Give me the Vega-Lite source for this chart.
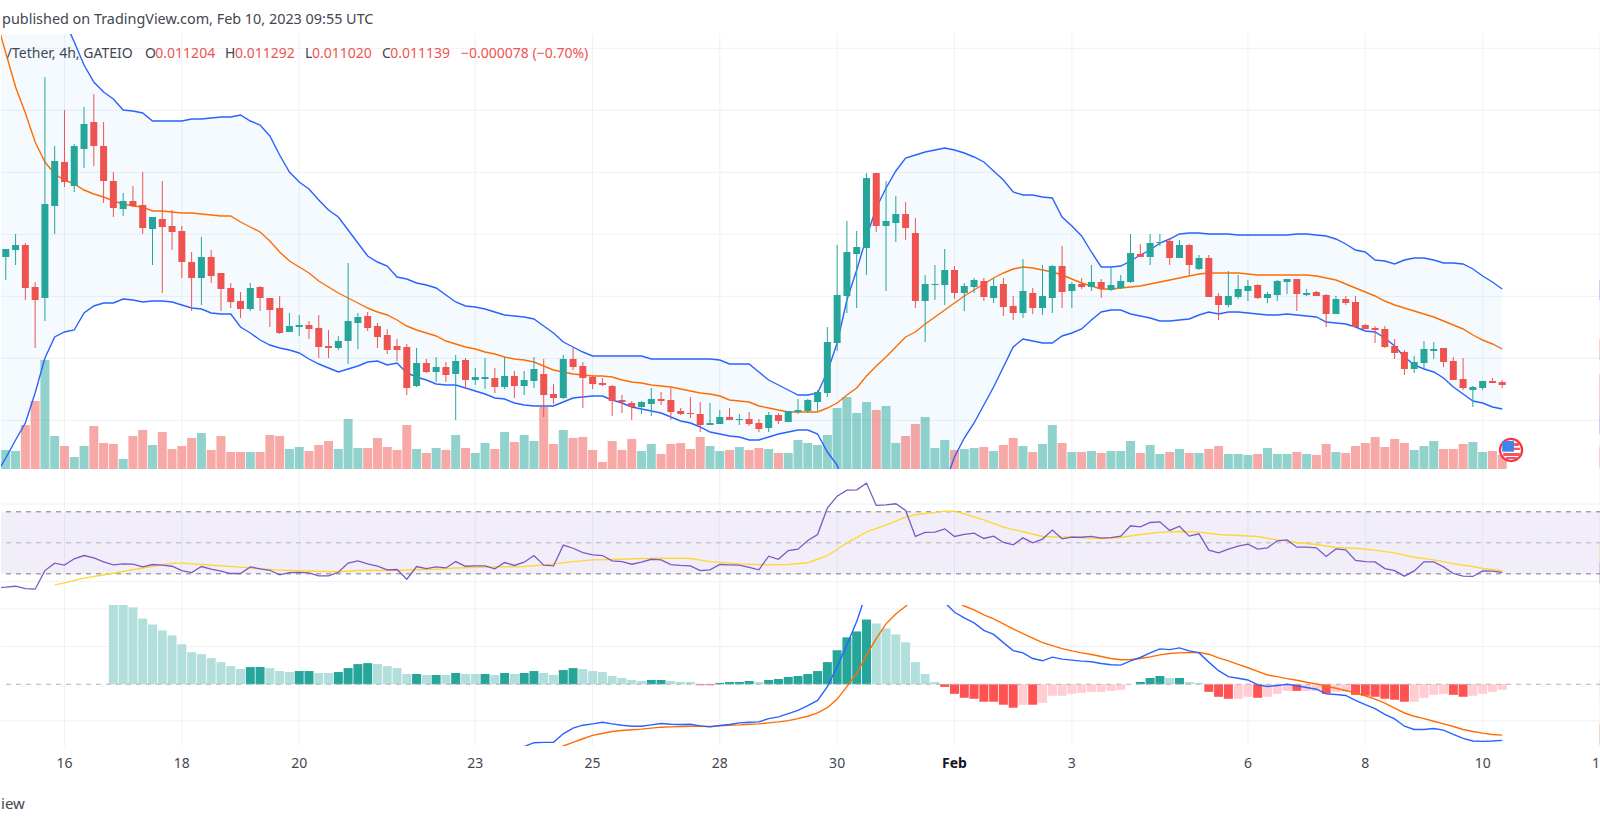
{
"$schema":"https://vega.github.io/schema/vega-lite/v6.json",
"padding":0,
"background":"white",
"spacing":0,
"bounds":"flush",
"config":{"view":{"stroke":null},"font":"Noto Sans"},
"datasets":{
"candles":[
{"i":0,"o":212,"h":220,"l":189,"c":220,"v":19},{"i":1,"o":219,"h":235,"l":204,"c":224,"v":18},{"i":2,"o":224,"h":226,"l":169,"c":181,"v":44},{"i":3,"o":182,"h":187,"l":121,"c":169,"v":68},{"i":4,"o":171,"h":392,"l":148,"c":265,"v":109},{"i":5,"o":263,"h":323,"l":235,"c":308,"v":33},{"i":6,"o":307,"h":359,"l":282,"c":287,"v":23},{"i":7,"o":283,"h":325,"l":277,"c":323,"v":12},{"i":8,"o":320,"h":362,"l":301,"c":345,"v":23},{"i":9,"o":347,"h":375,"l":303,"c":323,"v":43},
{"i":10,"o":323,"h":347,"l":266,"c":288,"v":26},{"i":11,"o":288,"h":297,"l":252,"c":261,"v":25},{"i":12,"o":260,"h":276,"l":253,"c":268,"v":10},{"i":13,"o":268,"h":283,"l":262,"c":263,"v":33},{"i":14,"o":264,"h":297,"l":235,"c":241,"v":39},{"i":15,"o":240,"h":252,"l":204,"c":252,"v":24},{"i":16,"o":250,"h":288,"l":176,"c":242,"v":37},{"i":17,"o":243,"h":259,"l":219,"c":237,"v":20},{"i":18,"o":238,"h":243,"l":191,"c":207,"v":23},{"i":19,"o":207,"h":217,"l":158,"c":191,"v":31},
{"i":20,"o":191,"h":232,"l":164,"c":212,"v":36},{"i":21,"o":212,"h":219,"l":186,"c":193,"v":19},{"i":22,"o":196,"h":196,"l":158,"c":180,"v":33},{"i":23,"o":181,"h":186,"l":161,"c":167,"v":17},{"i":24,"o":168,"h":177,"l":151,"c":160,"v":17},{"i":25,"o":160,"h":186,"l":158,"c":181,"v":17},{"i":26,"o":182,"h":183,"l":158,"c":171,"v":17},{"i":27,"o":171,"h":171,"l":142,"c":159,"v":34},{"i":28,"o":161,"h":173,"l":135,"c":136,"v":33},{"i":29,"o":137,"h":156,"l":137,"c":143,"v":20},
{"i":30,"o":142,"h":154,"l":133,"c":144,"v":22},{"i":31,"o":144,"h":148,"l":130,"c":140,"v":18},{"i":32,"o":141,"h":154,"l":111,"c":122,"v":24},{"i":33,"o":123,"h":139,"l":111,"c":121,"v":28},{"i":34,"o":121,"h":133,"l":119,"c":128,"v":20},{"i":35,"o":128,"h":206,"l":105,"c":148,"v":50},{"i":36,"o":146,"h":156,"l":120,"c":152,"v":21},{"i":37,"o":153,"h":157,"l":138,"c":141,"v":21},{"i":38,"o":143,"h":146,"l":121,"c":132,"v":31},{"i":39,"o":134,"h":140,"l":115,"c":119,"v":22},
{"i":40,"o":123,"h":130,"l":108,"c":119,"v":19},{"i":41,"o":122,"h":125,"l":74,"c":81,"v":44},{"i":42,"o":83,"h":121,"l":82,"c":106,"v":20},{"i":43,"o":106,"h":110,"l":96,"c":97,"v":16},{"i":44,"o":97,"h":112,"l":87,"c":102,"v":21},{"i":45,"o":102,"h":107,"l":87,"c":94,"v":19},{"i":46,"o":95,"h":114,"l":49,"c":108,"v":34},{"i":47,"o":109,"h":111,"l":80,"c":89,"v":21},{"i":48,"o":89,"h":101,"l":84,"c":92,"v":16},{"i":49,"o":90,"h":111,"l":80,"c":92,"v":26},
{"i":50,"o":91,"h":101,"l":76,"c":82,"v":20},{"i":51,"o":82,"h":112,"l":80,"c":93,"v":37},{"i":52,"o":93,"h":98,"l":71,"c":83,"v":27},{"i":53,"o":83,"h":98,"l":74,"c":89,"v":34},{"i":54,"o":88,"h":112,"l":81,"c":100,"v":28},{"i":55,"o":95,"h":110,"l":52,"c":74,"v":62},{"i":56,"o":75,"h":85,"l":65,"c":71,"v":25},{"i":57,"o":71,"h":114,"l":70,"c":110,"v":39},{"i":58,"o":110,"h":122,"l":99,"c":102,"v":31},{"i":59,"o":103,"h":107,"l":61,"c":91,"v":32},
{"i":60,"o":92,"h":94,"l":80,"c":85,"v":19},{"i":61,"o":86,"h":91,"l":83,"c":84,"v":7},{"i":62,"o":83,"h":84,"l":53,"c":68,"v":28},{"i":63,"o":69,"h":74,"l":56,"c":67,"v":19},{"i":64,"o":66,"h":68,"l":49,"c":62,"v":30},{"i":65,"o":62,"h":68,"l":55,"c":67,"v":18},{"i":66,"o":65,"h":81,"l":53,"c":70,"v":25},{"i":67,"o":70,"h":77,"l":64,"c":68,"v":15},{"i":68,"o":69,"h":81,"l":49,"c":57,"v":25},{"i":69,"o":58,"h":61,"l":54,"c":55,"v":26},
{"i":70,"o":56,"h":72,"l":51,"c":55,"v":20},{"i":71,"o":55,"h":67,"l":37,"c":44,"v":32},{"i":72,"o":44,"h":66,"l":44,"c":46,"v":23},{"i":73,"o":45,"h":59,"l":45,"c":52,"v":18},{"i":74,"o":52,"h":61,"l":49,"c":49,"v":19},{"i":75,"o":49,"h":55,"l":44,"c":50,"v":22},{"i":76,"o":50,"h":57,"l":43,"c":45,"v":19},{"i":77,"o":46,"h":50,"l":37,"c":40,"v":21},{"i":78,"o":41,"h":57,"l":37,"c":54,"v":20},{"i":79,"o":54,"h":56,"l":45,"c":48,"v":16},
{"i":80,"o":47,"h":58,"l":47,"c":58,"v":16},{"i":81,"o":57,"h":70,"l":55,"c":59,"v":29},{"i":82,"o":58,"h":70,"l":56,"c":69,"v":26},{"i":83,"o":67,"h":79,"l":58,"c":77,"v":24},{"i":84,"o":76,"h":142,"l":72,"c":127,"v":34},{"i":85,"o":126,"h":224,"l":118,"c":174,"v":61},{"i":86,"o":173,"h":248,"l":156,"c":217,"v":72},{"i":87,"o":215,"h":238,"l":161,"c":222,"v":56},{"i":88,"o":221,"h":296,"l":194,"c":291,"v":67},{"i":89,"o":296,"h":296,"l":237,"c":243,"v":59},
{"i":90,"o":243,"h":288,"l":178,"c":248,"v":63},{"i":91,"o":246,"h":273,"l":227,"c":255,"v":26},{"i":92,"o":255,"h":267,"l":229,"c":241,"v":33},{"i":93,"o":236,"h":251,"l":161,"c":168,"v":45},{"i":94,"o":168,"h":194,"l":127,"c":185,"v":52},{"i":95,"o":184,"h":204,"l":169,"c":185,"v":21},{"i":96,"o":184,"h":220,"l":164,"c":199,"v":29},{"i":97,"o":199,"h":203,"l":170,"c":176,"v":19},{"i":98,"o":176,"h":186,"l":158,"c":183,"v":20},{"i":99,"o":182,"h":191,"l":176,"c":189,"v":21},
{"i":100,"o":188,"h":191,"l":168,"c":172,"v":22},{"i":101,"o":171,"h":191,"l":166,"c":183,"v":18},{"i":102,"o":185,"h":191,"l":153,"c":162,"v":24},{"i":103,"o":163,"h":173,"l":149,"c":156,"v":31},{"i":104,"o":156,"h":210,"l":151,"c":178,"v":23},{"i":105,"o":176,"h":181,"l":155,"c":161,"v":17},{"i":106,"o":161,"h":204,"l":154,"c":173,"v":25},{"i":107,"o":171,"h":204,"l":156,"c":203,"v":44},{"i":108,"o":203,"h":223,"l":161,"c":177,"v":26},{"i":109,"o":178,"h":187,"l":161,"c":185,"v":17},
{"i":110,"o":185,"h":191,"l":180,"c":182,"v":17},{"i":111,"o":182,"h":204,"l":178,"c":187,"v":18},{"i":112,"o":187,"h":190,"l":171,"c":180,"v":16},{"i":113,"o":179,"h":203,"l":178,"c":184,"v":18},{"i":114,"o":181,"h":194,"l":180,"c":188,"v":18},{"i":115,"o":187,"h":235,"l":186,"c":216,"v":28},{"i":116,"o":215,"h":225,"l":212,"c":212,"v":16},{"i":117,"o":212,"h":235,"l":204,"c":226,"v":24},{"i":118,"o":226,"h":235,"l":223,"c":227,"v":15},{"i":119,"o":228,"h":231,"l":204,"c":211,"v":17},
{"i":120,"o":211,"h":229,"l":211,"c":224,"v":20},{"i":121,"o":224,"h":225,"l":194,"c":204,"v":16},{"i":122,"o":200,"h":214,"l":199,"c":211,"v":16},{"i":123,"o":211,"h":214,"l":172,"c":172,"v":20},{"i":124,"o":173,"h":176,"l":149,"c":164,"v":23},{"i":125,"o":164,"h":198,"l":162,"c":173,"v":15},{"i":126,"o":172,"h":194,"l":170,"c":180,"v":15},{"i":127,"o":178,"h":189,"l":168,"c":183,"v":14},{"i":128,"o":184,"h":185,"l":170,"c":171,"v":15},{"i":129,"o":171,"h":177,"l":166,"c":175,"v":21},
{"i":130,"o":174,"h":189,"l":168,"c":188,"v":15},{"i":131,"o":187,"h":190,"l":175,"c":190,"v":15},{"i":132,"o":190,"h":190,"l":158,"c":175,"v":17},{"i":133,"o":174,"h":180,"l":173,"c":176,"v":15},{"i":134,"o":177,"h":178,"l":173,"c":173,"v":14},{"i":135,"o":174,"h":175,"l":142,"c":155,"v":25},{"i":136,"o":155,"h":173,"l":155,"c":170,"v":17},{"i":137,"o":170,"h":173,"l":164,"c":166,"v":16},{"i":138,"o":167,"h":173,"l":142,"c":142,"v":23},{"i":139,"o":144,"h":145,"l":140,"c":140,"v":26},
{"i":140,"o":141,"h":143,"l":126,"c":139,"v":32},{"i":141,"o":140,"h":143,"l":121,"c":122,"v":22},{"i":142,"o":123,"h":130,"l":110,"c":116,"v":30},{"i":143,"o":117,"h":119,"l":94,"c":100,"v":26},{"i":144,"o":100,"h":113,"l":96,"c":107,"v":19},{"i":145,"o":106,"h":128,"l":100,"c":120,"v":23},{"i":146,"o":118,"h":127,"l":110,"c":120,"v":28},{"i":147,"o":121,"h":121,"l":102,"c":107,"v":20},{"i":148,"o":108,"h":112,"l":89,"c":89,"v":20},{"i":149,"o":90,"h":111,"l":79,"c":81,"v":25},
{"i":150,"o":79,"h":83,"l":62,"c":82,"v":27},{"i":151,"o":81,"h":88,"l":79,"c":88,"v":17},{"i":152,"o":88,"h":91,"l":86,"c":86,"v":18},{"i":153,"o":87,"h":89,"l":81,"c":84,"v":14}
],
"bands":[
{"i":-1,"upper":800,"basis":450,"lower":-5},{"i":0,"upper":740,"basis":416,"lower":11},{"i":1,"upper":680,"basis":382,"lower":29},{"i":2,"upper":620,"basis":356,"lower":46},{"i":3,"upper":560,"basis":327,"lower":76},{"i":4,"upper":510,"basis":307,"lower":111},{"i":5,"upper":475,"basis":295,"lower":132},{"i":6,"upper":449,"basis":289,"lower":137},{"i":7,"upper":427,"basis":285,"lower":139},{"i":8,"upper":404,"basis":279,"lower":156},{"i":9,"upper":387,"basis":275,"lower":163},
{"i":10,"upper":377,"basis":272,"lower":166},{"i":11,"upper":370,"basis":268,"lower":166},{"i":12,"upper":359,"basis":265,"lower":170},{"i":13,"upper":358,"basis":263,"lower":169},{"i":14,"upper":356,"basis":262,"lower":167},{"i":15,"upper":348,"basis":258,"lower":168},{"i":16,"upper":348,"basis":258,"lower":168},{"i":17,"upper":348,"basis":257,"lower":167},{"i":18,"upper":348,"basis":256,"lower":164},{"i":19,"upper":350,"basis":256,"lower":161},
{"i":20,"upper":350,"basis":255,"lower":160},{"i":21,"upper":351,"basis":254,"lower":156},{"i":22,"upper":352,"basis":253,"lower":155},{"i":23,"upper":352,"basis":253,"lower":155},{"i":24,"upper":354,"basis":247,"lower":142},{"i":25,"upper":348,"basis":242,"lower":136},{"i":26,"upper":344,"basis":237,"lower":129},{"i":27,"upper":333,"basis":228,"lower":124},{"i":28,"upper":314,"basis":217,"lower":121},{"i":29,"upper":297,"basis":208,"lower":119},
{"i":30,"upper":287,"basis":202,"lower":116},{"i":31,"upper":280,"basis":196,"lower":110},{"i":32,"upper":269,"basis":188,"lower":105},{"i":33,"upper":259,"basis":182,"lower":101},{"i":34,"upper":252,"basis":176,"lower":97},{"i":35,"upper":239,"basis":171,"lower":100},{"i":36,"upper":226,"basis":166,"lower":103},{"i":37,"upper":213,"basis":161,"lower":107},{"i":38,"upper":207,"basis":157,"lower":108},{"i":39,"upper":203,"basis":154,"lower":104},
{"i":40,"upper":192,"basis":149,"lower":106},{"i":41,"upper":190,"basis":143,"lower":96},{"i":42,"upper":186,"basis":139,"lower":92},{"i":43,"upper":184,"basis":136,"lower":89},{"i":44,"upper":181,"basis":133,"lower":85},{"i":45,"upper":174,"basis":128,"lower":84},{"i":46,"upper":167,"basis":125,"lower":84},{"i":47,"upper":163,"basis":122,"lower":81},{"i":48,"upper":162,"basis":120,"lower":78},{"i":49,"upper":160,"basis":117,"lower":75},
{"i":50,"upper":157,"basis":115,"lower":71},{"i":51,"upper":154,"basis":112,"lower":70},{"i":52,"upper":153,"basis":110,"lower":66},{"i":53,"upper":152,"basis":109,"lower":64},{"i":54,"upper":150,"basis":107,"lower":63},{"i":55,"upper":143,"basis":103,"lower":63},{"i":56,"upper":136,"basis":99,"lower":63},{"i":57,"upper":127,"basis":97,"lower":67},{"i":58,"upper":122,"basis":95,"lower":71},{"i":59,"upper":117,"basis":94,"lower":72},
{"i":60,"upper":113,"basis":93,"lower":73},{"i":61,"upper":113,"basis":93,"lower":73},{"i":62,"upper":113,"basis":92,"lower":69},{"i":63,"upper":113,"basis":89,"lower":66},{"i":64,"upper":113,"basis":87,"lower":62},{"i":65,"upper":113,"basis":86,"lower":60},{"i":66,"upper":110,"basis":84,"lower":58},{"i":67,"upper":110,"basis":83,"lower":56},{"i":68,"upper":110,"basis":82,"lower":52},{"i":69,"upper":110,"basis":80,"lower":48},
{"i":70,"upper":110,"basis":78,"lower":46},{"i":71,"upper":110,"basis":76,"lower":42},{"i":72,"upper":110,"basis":75,"lower":37},{"i":73,"upper":109,"basis":73,"lower":35},{"i":74,"upper":105,"basis":69,"lower":33},{"i":75,"upper":105,"basis":68,"lower":32},{"i":76,"upper":105,"basis":67,"lower":29},{"i":77,"upper":97,"basis":63,"lower":29},{"i":78,"upper":89,"basis":61,"lower":32},{"i":79,"upper":84,"basis":59,"lower":35},
{"i":80,"upper":79,"basis":57,"lower":37},{"i":81,"upper":74,"basis":57,"lower":39},{"i":82,"upper":74,"basis":57,"lower":39},{"i":83,"upper":76,"basis":57,"lower":35},{"i":84,"upper":97,"basis":61,"lower":17},{"i":85,"upper":126,"basis":66,"lower":4},{"i":86,"upper":169,"basis":74,"lower":-25},{"i":87,"upper":199,"basis":81,"lower":-60},{"i":88,"upper":232,"basis":93,"lower":-90},{"i":89,"upper":261,"basis":103,"lower":-110},
{"i":90,"upper":281,"basis":112,"lower":-130},{"i":91,"upper":298,"basis":122,"lower":-135},{"i":92,"upper":311,"basis":132,"lower":-130},{"i":93,"upper":314,"basis":137,"lower":-110},{"i":94,"upper":317,"basis":145,"lower":-80},{"i":95,"upper":319,"basis":152,"lower":-50},{"i":96,"upper":321,"basis":159,"lower":-15},{"i":97,"upper":319,"basis":166,"lower":12},{"i":98,"upper":316,"basis":173,"lower":31},{"i":99,"upper":312,"basis":179,"lower":46},
{"i":100,"upper":307,"basis":185,"lower":64},{"i":101,"upper":298,"basis":191,"lower":82},{"i":102,"upper":289,"basis":196,"lower":102},{"i":103,"upper":277,"basis":200,"lower":122},{"i":104,"upper":274,"basis":202,"lower":130},{"i":105,"upper":274,"basis":201,"lower":128},{"i":106,"upper":272,"basis":199,"lower":126},{"i":107,"upper":271,"basis":197,"lower":126},{"i":108,"upper":252,"basis":194,"lower":133},{"i":109,"upper":243,"basis":190,"lower":136},
{"i":110,"upper":233,"basis":186,"lower":140},{"i":111,"upper":217,"basis":183,"lower":149},{"i":112,"upper":202,"basis":180,"lower":157},{"i":113,"upper":202,"basis":180,"lower":159},{"i":114,"upper":203,"basis":181,"lower":159},{"i":115,"upper":208,"basis":182,"lower":155},{"i":116,"upper":214,"basis":183,"lower":153},{"i":117,"upper":219,"basis":185,"lower":151},{"i":118,"upper":226,"basis":187,"lower":148},{"i":119,"upper":230,"basis":189,"lower":148},
{"i":120,"upper":235,"basis":191,"lower":149},{"i":121,"upper":236,"basis":193,"lower":150},{"i":122,"upper":236,"basis":195,"lower":154},{"i":123,"upper":235,"basis":196,"lower":157},{"i":124,"upper":235,"basis":196,"lower":155},{"i":125,"upper":235,"basis":196,"lower":157},{"i":126,"upper":234,"basis":196,"lower":157},{"i":127,"upper":234,"basis":195,"lower":156},{"i":128,"upper":234,"basis":194,"lower":155},{"i":129,"upper":234,"basis":194,"lower":154},
{"i":130,"upper":234,"basis":194,"lower":154},{"i":131,"upper":234,"basis":194,"lower":155},{"i":132,"upper":235,"basis":194,"lower":154},{"i":133,"upper":235,"basis":194,"lower":153},{"i":134,"upper":234,"basis":193,"lower":152},{"i":135,"upper":233,"basis":191,"lower":147},{"i":136,"upper":230,"basis":189,"lower":146},{"i":137,"upper":225,"basis":185,"lower":145},{"i":138,"upper":219,"basis":181,"lower":142},{"i":139,"upper":217,"basis":177,"lower":138},
{"i":140,"upper":209,"basis":173,"lower":137},{"i":141,"upper":208,"basis":168,"lower":131},{"i":142,"upper":205,"basis":164,"lower":123},{"i":143,"upper":209,"basis":161,"lower":112},{"i":144,"upper":211,"basis":158,"lower":104},{"i":145,"upper":211,"basis":155,"lower":100},{"i":146,"upper":209,"basis":152,"lower":97},{"i":147,"upper":206,"basis":148,"lower":91},{"i":148,"upper":206,"basis":144,"lower":82},{"i":149,"upper":205,"basis":140,"lower":75},
{"i":150,"upper":200,"basis":134,"lower":68},{"i":151,"upper":193,"basis":129,"lower":66},{"i":152,"upper":187,"basis":125,"lower":62},{"i":153,"upper":180,"basis":120,"lower":60}
],
"rsi":[
{"i":-1,"rsi":21},{"i":0,"rsi":21.4},{"i":1,"rsi":22},{"i":2,"rsi":20.5},{"i":3,"rsi":20.1},{"i":4,"rsi":32.1},{"i":5,"rsi":36.9},{"i":6,"rsi":35.6},{"i":7,"rsi":39.7},{"i":8,"rsi":41.8},{"i":9,"rsi":40.3},{"i":10,"rsi":37.7},{"i":11,"rsi":35.8},{"i":12,"rsi":36.4},{"i":13,"rsi":36.2},{"i":14,"rsi":34.5},{"i":15,"rsi":36},{"i":16,"rsi":35.6},{"i":17,"rsi":34.9},{"i":18,"rsi":32.1},{"i":19,"rsi":30.8},{"i":20,"rsi":34.7},{"i":21,"rsi":33},{"i":22,"rsi":31.7},{"i":23,"rsi":30.2},{"i":24,"rsi":30.2},{"i":25,"rsi":34.5},{"i":26,"rsi":33.2},{"i":27,"rsi":32.3},{"i":28,"rsi":29.3},{"i":29,"rsi":30.8},{"i":30,"rsi":31},{"i":31,"rsi":30.6},{"i":32,"rsi":28.7},{"i":33,"rsi":28.7},{"i":34,"rsi":31},{"i":35,"rsi":36.9},{"i":36,"rsi":38.4},{"i":37,"rsi":36.4},{"i":38,"rsi":34.9},{"i":39,"rsi":32.6},{"i":40,"rsi":32.8},{"i":41,"rsi":26.5},{"i":42,"rsi":34.7},{"i":43,"rsi":33.4},{"i":44,"rsi":34.5},{"i":45,"rsi":33.8},{"i":46,"rsi":37.9},{"i":47,"rsi":34.9},{"i":48,"rsi":35.1},{"i":49,"rsi":35.1},{"i":50,"rsi":33.2},{"i":51,"rsi":37.3},{"i":52,"rsi":35.4},{"i":53,"rsi":37.5},{"i":54,"rsi":41.8},{"i":55,"rsi":35.6},{"i":56,"rsi":35.1},{"i":57,"rsi":48.5},{"i":58,"rsi":46.5},{"i":59,"rsi":43.7},{"i":60,"rsi":42.2},{"i":61,"rsi":41.8},{"i":62,"rsi":38.4},{"i":63,"rsi":37.9},{"i":64,"rsi":36.2},{"i":65,"rsi":37.5},{"i":66,"rsi":39.4},{"i":67,"rsi":39},{"i":68,"rsi":36},{"i":69,"rsi":35.4},{"i":70,"rsi":35.1},{"i":71,"rsi":32.1},{"i":72,"rsi":32.6},{"i":73,"rsi":36},{"i":74,"rsi":35.8},{"i":75,"rsi":35.6},{"i":76,"rsi":34.1},{"i":77,"rsi":32.6},{"i":78,"rsi":41.4},{"i":79,"rsi":39.4},{"i":80,"rsi":45},{"i":81,"rsi":45.9},{"i":82,"rsi":51.5},{"i":83,"rsi":55.4},{"i":84,"rsi":72.4},{"i":85,"rsi":80.1},{"i":86,"rsi":84},{"i":87,"rsi":84.2},{"i":88,"rsi":88.5},{"i":89,"rsi":74.1},{"i":90,"rsi":74.5},{"i":91,"rsi":75.2},{"i":92,"rsi":70.9},{"i":93,"rsi":54.1},{"i":94,"rsi":56.7},{"i":95,"rsi":56.9},{"i":96,"rsi":59},{"i":97,"rsi":54.1},{"i":98,"rsi":55.4},{"i":99,"rsi":56.2},{"i":100,"rsi":52.8},{"i":101,"rsi":54.3},{"i":102,"rsi":50.2},{"i":103,"rsi":48.7},{"i":104,"rsi":53.2},{"i":105,"rsi":50},{"i":106,"rsi":52.4},{"i":107,"rsi":58.2},{"i":108,"rsi":52.6},{"i":109,"rsi":53.6},{"i":110,"rsi":53.6},{"i":111,"rsi":54.1},{"i":112,"rsi":53},{"i":113,"rsi":53.4},{"i":114,"rsi":54.3},{"i":115,"rsi":61},{"i":116,"rsi":60.3},{"i":117,"rsi":63.1},{"i":118,"rsi":63.5},{"i":119,"rsi":58},{"i":120,"rsi":60.7},{"i":121,"rsi":54.3},{"i":122,"rsi":55.8},{"i":123,"rsi":45.3},{"i":124,"rsi":43.5},{"i":125,"rsi":45.9},{"i":126,"rsi":47.8},{"i":127,"rsi":49.1},{"i":128,"rsi":45.9},{"i":129,"rsi":46.8},{"i":130,"rsi":51.3},{"i":131,"rsi":51.9},{"i":132,"rsi":47.2},{"i":133,"rsi":47.2},{"i":134,"rsi":46.8},{"i":135,"rsi":41.2},{"i":136,"rsi":46.1},{"i":137,"rsi":45.5},{"i":138,"rsi":38.6},{"i":139,"rsi":37.9},{"i":140,"rsi":37.7},{"i":141,"rsi":33.4},{"i":142,"rsi":32.1},{"i":143,"rsi":28.5},{"i":144,"rsi":31.9},{"i":145,"rsi":37.7},{"i":146,"rsi":37.7},{"i":147,"rsi":34.5},{"i":148,"rsi":30.2},{"i":149,"rsi":28.5},{"i":150,"rsi":28.3},{"i":151,"rsi":31.9},{"i":152,"rsi":31.7},{"i":153,"rsi":31}
],
"rsiMa":[
{"i":5,"ma":22.9},{"i":6,"ma":24.2},{"i":8,"ma":27.2},{"i":11,"ma":30.4},{"i":14,"ma":33.8},{"i":16,"ma":35.8},{"i":17,"ma":36.9},{"i":18,"ma":36.9},{"i":20,"ma":36},{"i":24,"ma":34.3},{"i":26,"ma":33.2},{"i":29,"ma":32.1},{"i":33,"ma":31.5},{"i":34,"ma":31.3},{"i":36,"ma":32.1},{"i":40,"ma":32.3},{"i":44,"ma":33},{"i":46,"ma":33.8},{"i":50,"ma":34.5},{"i":53,"ma":34.7},{"i":55,"ma":35.8},{"i":58,"ma":37.9},{"i":60,"ma":39},{"i":62,"ma":39.2},{"i":65,"ma":39.9},{"i":68,"ma":40.1},{"i":70,"ma":39.9},{"i":72,"ma":37.9},{"i":75,"ma":36.4},{"i":78,"ma":35.8},{"i":80,"ma":36},{"i":82,"ma":37.1},{"i":83,"ma":39.4},{"i":84,"ma":41.8},{"i":85,"ma":45.7},{"i":86,"ma":50},{"i":87,"ma":53.4},{"i":88,"ma":57.1},{"i":90,"ma":61.4},{"i":92,"ma":66.6},{"i":93,"ma":68.1},{"i":95,"ma":69.6},{"i":96,"ma":70.4},{"i":97,"ma":70.4},{"i":98,"ma":68.7},{"i":100,"ma":64.8},{"i":102,"ma":60.1},{"i":104,"ma":57.1},{"i":106,"ma":54.1},{"i":108,"ma":53.6},{"i":109,"ma":53.9},{"i":110,"ma":53.2},{"i":112,"ma":52.8},{"i":114,"ma":53.4},{"i":116,"ma":55.4},{"i":118,"ma":56.7},{"i":120,"ma":57.3},{"i":122,"ma":56.9},{"i":124,"ma":55.4},{"i":126,"ma":54.7},{"i":128,"ma":54.1},{"i":130,"ma":51.9},{"i":132,"ma":50.2},{"i":134,"ma":48.9},{"i":136,"ma":47},{"i":138,"ma":46.5},{"i":140,"ma":45.3},{"i":142,"ma":43.5},{"i":144,"ma":40.7},{"i":146,"ma":39},{"i":148,"ma":36.6},{"i":150,"ma":34.7},{"i":151,"ma":33.4},{"i":153,"ma":32.1}
],
"hist":[
{"i":11,"h":260,"tone":"fade"},{"i":12,"h":260,"tone":"fade"},{"i":13,"h":233,"tone":"fade"},{"i":14,"h":199,"tone":"fade"},{"i":15,"h":181,"tone":"fade"},{"i":16,"h":163,"tone":"fade"},{"i":17,"h":148,"tone":"fade"},{"i":18,"h":121,"tone":"fade"},{"i":19,"h":97,"tone":"fade"},{"i":20,"h":91,"tone":"fade"},{"i":21,"h":79,"tone":"fade"},{"i":22,"h":67,"tone":"fade"},{"i":23,"h":55,"tone":"fade"},{"i":24,"h":46,"tone":"fade"},{"i":25,"h":52,"tone":"rise"},{"i":26,"h":52,"tone":"rise"},{"i":27,"h":49,"tone":"fade"},{"i":28,"h":40,"tone":"fade"},{"i":29,"h":37,"tone":"fade"},{"i":30,"h":40,"tone":"rise"},{"i":31,"h":40,"tone":"rise"},{"i":32,"h":34,"tone":"fade"},{"i":33,"h":34,"tone":"fade"},{"i":34,"h":37,"tone":"rise"},{"i":35,"h":49,"tone":"rise"},{"i":36,"h":61,"tone":"rise"},{"i":37,"h":64,"tone":"rise"},{"i":38,"h":61,"tone":"fade"},{"i":39,"h":55,"tone":"fade"},{"i":40,"h":49,"tone":"fade"},{"i":41,"h":31,"tone":"fade"},{"i":42,"h":31,"tone":"rise"},{"i":43,"h":28,"tone":"fade"},{"i":44,"h":28,"tone":"rise"},{"i":45,"h":28,"tone":"fade"},{"i":46,"h":34,"tone":"rise"},{"i":47,"h":31,"tone":"fade"},{"i":48,"h":31,"tone":"fade"},{"i":49,"h":31,"tone":"rise"},{"i":50,"h":28,"tone":"fade"},{"i":51,"h":34,"tone":"rise"},{"i":52,"h":31,"tone":"fade"},{"i":53,"h":34,"tone":"rise"},{"i":54,"h":40,"tone":"rise"},{"i":55,"h":34,"tone":"fade"},{"i":56,"h":28,"tone":"fade"},{"i":57,"h":43,"tone":"rise"},{"i":58,"h":49,"tone":"rise"},{"i":59,"h":46,"tone":"fade"},{"i":60,"h":40,"tone":"fade"},{"i":61,"h":37,"tone":"fade"},{"i":62,"h":25,"tone":"fade"},{"i":63,"h":19,"tone":"fade"},{"i":64,"h":13,"tone":"fade"},{"i":65,"h":10,"tone":"fade"},{"i":66,"h":13,"tone":"rise"},{"i":67,"h":13,"tone":"rise"},{"i":68,"h":10,"tone":"fade"},{"i":69,"h":7,"tone":"fade"},{"i":70,"h":7,"tone":"fade"},{"i":71,"h":-3,"tone":"fall"},{"i":72,"h":-3,"tone":"fall"},{"i":73,"h":4,"tone":"rise"},{"i":74,"h":7,"tone":"rise"},{"i":75,"h":7,"tone":"rise"},{"i":76,"h":10,"tone":"rise"},{"i":77,"h":7,"tone":"fade"},{"i":78,"h":13,"tone":"rise"},{"i":79,"h":16,"tone":"rise"},{"i":80,"h":22,"tone":"rise"},{"i":81,"h":25,"tone":"rise"},{"i":82,"h":31,"tone":"rise"},{"i":83,"h":40,"tone":"rise"},{"i":84,"h":67,"tone":"rise"},{"i":85,"h":103,"tone":"rise"},{"i":86,"h":142,"tone":"rise"},{"i":87,"h":160,"tone":"rise"},{"i":88,"h":196,"tone":"rise"},{"i":89,"h":184,"tone":"fade"},{"i":90,"h":169,"tone":"fade"},{"i":91,"h":151,"tone":"fade"},{"i":92,"h":127,"tone":"fade"},{"i":93,"h":67,"tone":"fade"},{"i":94,"h":31,"tone":"fade"},{"i":95,"h":7,"tone":"fade"},{"i":96,"h":-8,"tone":"fall"},{"i":97,"h":-29,"tone":"fall"},{"i":98,"h":-41,"tone":"fall"},{"i":99,"h":-44,"tone":"fall"},{"i":100,"h":-53,"tone":"fall"},{"i":101,"h":-53,"tone":"fall"},{"i":102,"h":-62,"tone":"fall"},{"i":103,"h":-71,"tone":"fall"},{"i":104,"h":-62,"tone":"ease"},{"i":105,"h":-62,"tone":"fall"},{"i":106,"h":-56,"tone":"ease"},{"i":107,"h":-35,"tone":"ease"},{"i":108,"h":-35,"tone":"ease"},{"i":109,"h":-29,"tone":"ease"},{"i":110,"h":-26,"tone":"ease"},{"i":111,"h":-23,"tone":"ease"},{"i":112,"h":-23,"tone":"ease"},{"i":113,"h":-20,"tone":"ease"},{"i":114,"h":-17,"tone":"ease"},{"i":115,"h":-1,"tone":"ease"},{"i":116,"h":7,"tone":"rise"},{"i":117,"h":19,"tone":"rise"},{"i":118,"h":25,"tone":"rise"},{"i":119,"h":19,"tone":"fade"},{"i":120,"h":19,"tone":"rise"},{"i":121,"h":7,"tone":"fade"},{"i":122,"h":4,"tone":"fade"},{"i":123,"h":-23,"tone":"fall"},{"i":124,"h":-38,"tone":"fall"},{"i":125,"h":-44,"tone":"fall"},{"i":126,"h":-44,"tone":"ease"},{"i":127,"h":-38,"tone":"ease"},{"i":128,"h":-41,"tone":"fall"},{"i":129,"h":-38,"tone":"ease"},{"i":130,"h":-29,"tone":"ease"},{"i":131,"h":-20,"tone":"ease"},{"i":132,"h":-20,"tone":"fall"},{"i":133,"h":-20,"tone":"ease"},{"i":134,"h":-20,"tone":"ease"},{"i":135,"h":-29,"tone":"fall"},{"i":136,"h":-23,"tone":"ease"},{"i":137,"h":-23,"tone":"ease"},{"i":138,"h":-32,"tone":"fall"},{"i":139,"h":-35,"tone":"fall"},{"i":140,"h":-38,"tone":"fall"},{"i":141,"h":-44,"tone":"fall"},{"i":142,"h":-47,"tone":"fall"},{"i":143,"h":-53,"tone":"fall"},{"i":144,"h":-53,"tone":"ease"},{"i":145,"h":-41,"tone":"ease"},{"i":146,"h":-32,"tone":"ease"},{"i":147,"h":-29,"tone":"ease"},{"i":148,"h":-32,"tone":"fall"},{"i":149,"h":-38,"tone":"fall"},{"i":150,"h":-35,"tone":"ease"},{"i":151,"h":-29,"tone":"ease"},{"i":152,"h":-23,"tone":"ease"},{"i":153,"h":-17,"tone":"ease"}
],
"macd":[
{"i":53,"macd":-189,"signal":-232},{"i":54,"macd":-177,"signal":-222},{"i":55,"macd":-176,"signal":-212},{"i":56,"macd":-176,"signal":-199},{"i":57,"macd":-150,"signal":-187},{"i":58,"macd":-133,"signal":-176},{"i":59,"macd":-124,"signal":-165},{"i":60,"macd":-120,"signal":-155},{"i":61,"macd":-115,"signal":-149},{"i":62,"macd":-120,"signal":-143},{"i":63,"macd":-124,"signal":-140},{"i":64,"macd":-127,"signal":-138},{"i":65,"macd":-127,"signal":-136},{"i":66,"macd":-123,"signal":-133},{"i":67,"macd":-119,"signal":-130},{"i":68,"macd":-121,"signal":-129},{"i":69,"macd":-122,"signal":-128},{"i":70,"macd":-121,"signal":-127},{"i":71,"macd":-126,"signal":-127},{"i":72,"macd":-129,"signal":-128},{"i":73,"macd":-125,"signal":-126},{"i":74,"macd":-122,"signal":-124},{"i":75,"macd":-117,"signal":-123},{"i":76,"macd":-115,"signal":-121},{"i":77,"macd":-114,"signal":-120},{"i":78,"macd":-104,"signal":-117},{"i":79,"macd":-99,"signal":-114},{"i":80,"macd":-89,"signal":-110},{"i":81,"macd":-79,"signal":-104},{"i":82,"macd":-65,"signal":-97},{"i":83,"macd":-49,"signal":-87},{"i":84,"macd":-7,"signal":-71},{"i":85,"macd":53,"signal":-45},{"i":86,"macd":120,"signal":-7},{"i":87,"macd":190,"signal":33},{"i":88,"macd":278,"signal":88},{"i":89,"macd":323,"signal":138},{"i":90,"macd":353,"signal":183},{"i":91,"macd":368,"signal":213},{"i":92,"macd":373,"signal":236},{"i":93,"macd":343,"signal":263},{"i":94,"macd":303,"signal":273},{"i":95,"macd":273,"signal":278},{"i":96,"macd":248,"signal":273},{"i":97,"macd":218,"signal":253},{"i":98,"macd":201,"signal":237},{"i":99,"macd":186,"signal":225},{"i":100,"macd":163,"signal":210},{"i":101,"macd":151,"signal":198},{"i":102,"macd":126,"signal":183},{"i":103,"macd":102,"signal":168},{"i":104,"macd":95,"signal":153},{"i":105,"macd":78,"signal":140},{"i":106,"macd":71,"signal":126},{"i":107,"macd":82,"signal":117},{"i":108,"macd":76,"signal":108},{"i":109,"macd":73,"signal":101},{"i":110,"macd":70,"signal":95},{"i":111,"macd":68,"signal":90},{"i":112,"macd":63,"signal":84},{"i":113,"macd":59,"signal":78},{"i":114,"macd":58,"signal":74},{"i":115,"macd":71,"signal":75},{"i":116,"macd":81,"signal":78},{"i":117,"macd":95,"signal":83},{"i":118,"macd":107,"signal":89},{"i":119,"macd":105,"signal":93},{"i":120,"macd":110,"signal":95},{"i":121,"macd":101,"signal":96},{"i":122,"macd":95,"signal":96},{"i":123,"macd":67,"signal":91},{"i":124,"macd":41,"signal":80},{"i":125,"macd":23,"signal":71},{"i":126,"macd":18,"signal":60},{"i":127,"macd":13,"signal":50},{"i":128,"macd":-2,"signal":39},{"i":129,"macd":-7,"signal":28},{"i":130,"macd":-4,"signal":23},{"i":131,"macd":0,"signal":17},{"i":132,"macd":-5,"signal":12},{"i":133,"macd":-10,"signal":6},{"i":134,"macd":-15,"signal":1},{"i":135,"macd":-29,"signal":-6},{"i":136,"macd":-31,"signal":-12},{"i":137,"macd":-34,"signal":-19},{"i":138,"macd":-49,"signal":-26},{"i":139,"macd":-62,"signal":-35},{"i":140,"macd":-74,"signal":-45},{"i":141,"macd":-91,"signal":-57},{"i":142,"macd":-105,"signal":-72},{"i":143,"macd":-127,"signal":-87},{"i":144,"macd":-137,"signal":-97},{"i":145,"macd":-137,"signal":-104},{"i":146,"macd":-134,"signal":-112},{"i":147,"macd":-139,"signal":-120},{"i":148,"macd":-152,"signal":-128},{"i":149,"macd":-164,"signal":-137},{"i":150,"macd":-172,"signal":-143},{"i":151,"macd":-173,"signal":-148},{"i":152,"macd":-172,"signal":-152},{"i":153,"macd":-170,"signal":-154}
],
"days":[
{"i":6,"label":"16"},{"i":18,"label":"18"},{"i":30,"label":"20"},{"i":48,"label":"23"},{"i":60,"label":"25"},{"i":73,"label":"28"},{"i":85,"label":"30"},{"i":97,"label":"Feb"},{"i":109,"label":"3"},{"i":127,"label":"6"},{"i":139,"label":"8"},{"i":151,"label":"10"},{"i":163,"label":"12"}
]
},
"vconcat":[
{"width":1600,"height":34,"layer":[
{"data":{"values":[{"at":-0.38,"text":"published on TradingView.com, Feb 10, 2023 09:55 UTC"}]},
"mark":{"type":"text","align":"left","baseline":"middle","fontSize":14.4,"dy":3,"color":"#434651","clip":true},
"encoding":{"x":{"field":"at","type":"quantitative","scale":{"domain":[-0.49,163.1],"nice":false,"zero":false},"axis":null},"text":{"field":"text"}}},
{"mark":{"type":"rule","color":"#f0f3fa","strokeWidth":2},"encoding":{"y":{"datum":0,"scale":{"domain":[0,34]},"axis":null}}}
]},
{"width":1600,"height":435,"layer":[
{"data":{"name":"days"},"mark":{"type":"rule","color":"#eff1f6","strokeWidth":1,"clip":true},
"encoding":{"x":{"field":"i","type":"quantitative","scale":{"domain":[-0.49,163.1],"nice":false,"zero":false,"padding":0},"axis":null}}},
{"data":{"values":[{"level":48.7},{"level":110.7},{"level":172.7},{"level":234.7},{"level":296.7},{"level":358.7},{"level":420.7}]},"mark":{"type":"rule","color":"#eff1f6","strokeWidth":1},
"encoding":{"y":{"field":"level","type":"quantitative","scale":{"domain":[0,435],"nice":false,"zero":false},"axis":null}}},
{"data":{"name":"bands"},"mark":{"type":"area","color":"#2196f3","opacity":0.05,"clip":true},
"encoding":{"x":{"field":"i","type":"quantitative","axis":null},"y":{"field":"upper","type":"quantitative","axis":null},"y2":{"field":"lower"}}},
{"data":{"name":"candles"},"mark":{"type":"bar","orient":"vertical","size":9,"opacity":0.5,"clip":true},
"encoding":{"x":{"field":"i","type":"quantitative","axis":null},"y":{"field":"v","type":"quantitative","axis":null},"color":{"condition":{"test":"datum.c>=datum.o","value":"#26a69a"},"value":"#ef5350"}}},
{"data":{"name":"bands"},"mark":{"type":"line","color":"#2962ff","strokeWidth":1.4,"clip":true},
"encoding":{"x":{"field":"i","type":"quantitative","axis":null},"y":{"field":"upper","type":"quantitative","axis":null}}},
{"data":{"name":"bands"},"mark":{"type":"line","color":"#2962ff","strokeWidth":1.4,"clip":true},
"encoding":{"x":{"field":"i","type":"quantitative","axis":null},"y":{"field":"lower","type":"quantitative","axis":null}}},
{"data":{"name":"bands"},"mark":{"type":"line","color":"#ff6d00","strokeWidth":1.4,"clip":true},
"encoding":{"x":{"field":"i","type":"quantitative","axis":null},"y":{"field":"basis","type":"quantitative","axis":null}}},
{"data":{"name":"candles"},"mark":{"type":"rule","strokeWidth":1,"clip":true},
"encoding":{"x":{"field":"i","type":"quantitative","axis":null},"y":{"field":"l","type":"quantitative","axis":null},"y2":{"field":"h"},"color":{"condition":{"test":"datum.c>=datum.o","value":"#26a69a"},"value":"#ef5350"}}},
{"data":{"name":"candles"},"mark":{"type":"bar","orient":"vertical","size":7,"clip":true},
"encoding":{"x":{"field":"i","type":"quantitative","axis":null},"y":{"field":"o","type":"quantitative","axis":null},"y2":{"field":"c"},"color":{"condition":{"test":"datum.c>=datum.o","value":"#26a69a"},"value":"#ef5350"}}},
{"data":{"values":[{"at":0.1,"at_y":415.5,"text":"/Tether, 4h, GATEIO","kind":"name"},{"at":14.23,"at_y":415.5,"text":"O","kind":"name"},{"at":15.29,"at_y":415.5,"text":"0.011204","kind":"value"},{"at":22.41,"at_y":415.5,"text":"H","kind":"name"},{"at":23.44,"at_y":415.5,"text":"0.011292","kind":"value"},{"at":30.59,"at_y":415.5,"text":"L","kind":"name"},{"at":31.3,"at_y":415.5,"text":"0.011020","kind":"value"},{"at":38.47,"at_y":415.5,"text":"C","kind":"name"},{"at":39.31,"at_y":415.5,"text":"0.011139","kind":"value"},{"at":46.54,"at_y":415.5,"text":"−0.000078 (−0.70%)","kind":"value"}]},
"mark":{"type":"text","align":"left","baseline":"middle","fontSize":14},
"encoding":{"x":{"field":"at","type":"quantitative","axis":null},"y":{"field":"at_y","type":"quantitative","axis":null},"text":{"field":"text"},"color":{"condition":{"test":"datum.kind=='value'","value":"#ef5350"},"value":"#434651"}}},
{"data":{"values":[{"at":153.9,"at_y":19}]},"mark":{"type":"point","filled":false,"fill":"white","fillOpacity":1,"size":491,"stroke":"#f23645","strokeWidth":2.2},
"encoding":{"x":{"field":"at","type":"quantitative","axis":null},"y":{"field":"at_y","type":"quantitative","axis":null}}},
{"data":{"values":[{"a":153.0,"b":154.2,"top":28,"bottom":17.3,"part":"canton"},{"a":154.2,"b":154.7,"top":26,"bottom":23,"part":"stripe"},{"a":154.2,"b":154.8,"top":21.3,"bottom":19,"part":"stripe"},{"a":153.1,"b":154.8,"top":16,"bottom":13,"part":"stripe"},{"a":153.4,"b":154.5,"top":12,"bottom":10,"part":"stripe"}]},
"mark":{"type":"rect"},
"encoding":{"x":{"field":"a","type":"quantitative","axis":null},"x2":{"field":"b"},"y":{"field":"top","type":"quantitative","axis":null},"y2":{"field":"bottom"},"color":{"condition":{"test":"datum.part=='canton'","value":"#3d86f0"},"value":"#f2555a"}}},
{"mark":{"type":"rule","color":"#e0e3eb","strokeWidth":1,"clip":true},"encoding":{"x":{"datum":163.05,"axis":null}}},
{"data":{"values":[{"top":189,"bottom":169,"tag":"band"},{"top":130,"bottom":109,"tag":"basis"},{"top":95,"bottom":56,"tag":"price"},{"top":56,"bottom":35,"tag":"band"},{"top":22,"bottom":1,"tag":"price"}]},
"mark":{"type":"bar","orient":"vertical","size":1.5,"clip":true},
"encoding":{"x":{"datum":163.05,"axis":null},"y":{"field":"top","type":"quantitative","axis":null},"y2":{"field":"bottom"},"color":{"condition":[{"test":"datum.tag=='band'","value":"#2962ff"},{"test":"datum.tag=='basis'","value":"#ff6d00"}],"value":"#ef5350"}}},
{"mark":{"type":"rule","color":"#e0e3eb","strokeWidth":1.5},"encoding":{"y":{"datum":0,"axis":null}}}
]},
{"width":1600,"height":136,"layer":[
{"data":{"name":"days"},"mark":{"type":"rule","color":"#eff1f6","strokeWidth":1,"clip":true},
"encoding":{"x":{"field":"i","type":"quantitative","scale":{"domain":[-0.49,163.1],"nice":false,"zero":false,"padding":0},"axis":null}}},
{"data":{"values":[{"level":75},{"level":25}]},"mark":{"type":"rule","color":"#eff1f6","strokeWidth":1},
"encoding":{"y":{"field":"level","type":"quantitative","scale":{"domain":[9.9,97.6],"nice":false,"zero":false},"axis":null}}},
{"data":{"values":[{"high":70,"low":30}]},"mark":{"type":"rect","color":"#7e57c2","opacity":0.1},
"encoding":{"y":{"field":"high","type":"quantitative","axis":null},"y2":{"field":"low"}}},
{"data":{"values":[{"level":70},{"level":50},{"level":30}]},"mark":{"type":"rule","strokeDash":[5,5],"strokeWidth":1},
"encoding":{"y":{"field":"level","type":"quantitative","axis":null},"color":{"condition":{"test":"datum.level==50","value":"#b2b3b9"},"value":"#787b86"}}},
{"data":{"name":"rsiMa"},"mark":{"type":"line","color":"#fdd835","strokeWidth":1.4,"clip":true},
"encoding":{"x":{"field":"i","type":"quantitative","axis":null},"y":{"field":"ma","type":"quantitative","axis":null}}},
{"data":{"name":"rsi"},"mark":{"type":"line","color":"#7e57c2","strokeWidth":1.3,"clip":true},
"encoding":{"x":{"field":"i","type":"quantitative","axis":null},"y":{"field":"rsi","type":"quantitative","axis":null}}},
{"mark":{"type":"rule","color":"#e0e3eb","strokeWidth":1,"clip":true},"encoding":{"x":{"datum":163.05,"axis":null}}},
{"data":{"values":[{"top":50.6,"bottom":37.5,"tag":"ma"},{"top":37.5,"bottom":23.8,"tag":"rsi"}]},
"mark":{"type":"bar","orient":"vertical","size":1.5,"clip":true},
"encoding":{"x":{"datum":163.05,"axis":null},"y":{"field":"top","type":"quantitative","axis":null},"y2":{"field":"bottom"},"color":{"condition":{"test":"datum.tag=='ma'","value":"#fdd835"},"value":"#7e57c2"}}},
{"mark":{"type":"rule","color":"#e0e3eb","strokeWidth":1.5},"encoding":{"y":{"datum":9.9,"axis":null}}}
]},
{"width":1600,"height":141,"layer":[
{"data":{"name":"days"},"mark":{"type":"rule","color":"#eff1f6","strokeWidth":1,"clip":true},
"encoding":{"x":{"field":"i","type":"quantitative","scale":{"domain":[-0.49,163.1],"nice":false,"zero":false,"padding":0},"axis":null}}},
{"data":{"values":[{"level":228},{"level":114},{"level":-111}]},"mark":{"type":"rule","color":"#eff1f6","strokeWidth":1},
"encoding":{"y":{"field":"level","type":"quantitative","scale":{"domain":[-187,240],"nice":false,"zero":false},"axis":null}}},
{"data":{"name":"hist"},"mark":{"type":"bar","orient":"vertical","size":9,"clip":true},
"encoding":{"x":{"field":"i","type":"quantitative","axis":null},"y":{"field":"h","type":"quantitative","axis":null},
"color":{"field":"tone","type":"nominal","legend":null,"scale":{"domain":["rise","fade","fall","ease"],"range":["#26a69a","#b2dfdb","#ff5252","#ffcdd2"]}}}},
{"data":{"values":[{"level":0}]},"mark":{"type":"rule","strokeDash":[5,5],"strokeWidth":1,"color":"#b2b3b9"},
"encoding":{"y":{"field":"level","type":"quantitative","axis":null}}},
{"data":{"name":"macd"},"mark":{"type":"line","color":"#ff6d00","strokeWidth":1.4,"clip":true},
"encoding":{"x":{"field":"i","type":"quantitative","axis":null},"y":{"field":"signal","type":"quantitative","axis":null}}},
{"data":{"name":"macd"},"mark":{"type":"line","color":"#2962ff","strokeWidth":1.4,"clip":true},
"encoding":{"x":{"field":"i","type":"quantitative","axis":null},"y":{"field":"macd","type":"quantitative","axis":null}}},
{"mark":{"type":"rule","color":"#e0e3eb","strokeWidth":1,"clip":true},"encoding":{"x":{"datum":163.05,"axis":null}}},
{"data":{"values":[{"top":15,"bottom":-46,"tag":"hist"},{"top":-122,"bottom":-183,"tag":"signal"}]},
"mark":{"type":"bar","orient":"vertical","size":1.5,"clip":true},
"encoding":{"x":{"datum":163.05,"axis":null},"y":{"field":"top","type":"quantitative","axis":null},"y2":{"field":"bottom"},"color":{"condition":{"test":"datum.tag=='hist'","value":"#ffcdd2"},"value":"#ff6d00"}}},
{"mark":{"type":"rule","color":"#e0e3eb","strokeWidth":1.5},"encoding":{"y":{"datum":-187,"axis":null}}}
]},
{"width":1600,"height":35,"layer":[
{"data":{"name":"days"},"transform":[{"filter":"datum.label!='Feb'"}],"mark":{"type":"text","fontSize":14,"color":"#434651","baseline":"middle","clip":true},
"encoding":{"x":{"field":"i","type":"quantitative","scale":{"domain":[-0.49,163.1],"nice":false,"zero":false},"axis":null},"text":{"field":"label"}}},
{"data":{"name":"days"},"transform":[{"filter":"datum.label=='Feb'"}],"mark":{"type":"text","fontSize":14,"fontWeight":"bold","color":"#131722","baseline":"middle"},
"encoding":{"x":{"field":"i","type":"quantitative","axis":null},"text":{"field":"label"}}},
{"mark":{"type":"rule","color":"#f0f3fa","strokeWidth":2},"encoding":{"y":{"datum":0,"scale":{"domain":[0,35]},"axis":null}}}
]},
{"width":1600,"height":44,"layer":[
{"data":{"values":[{"at":-1.26,"text":"view"}]},"mark":{"type":"text","align":"left","baseline":"middle","fontSize":15,"dy":1,"color":"#434651","clip":true},
"encoding":{"x":{"field":"at","type":"quantitative","scale":{"domain":[-0.49,163.1],"nice":false,"zero":false},"axis":null},"text":{"field":"text"}}}
]}
]
}
